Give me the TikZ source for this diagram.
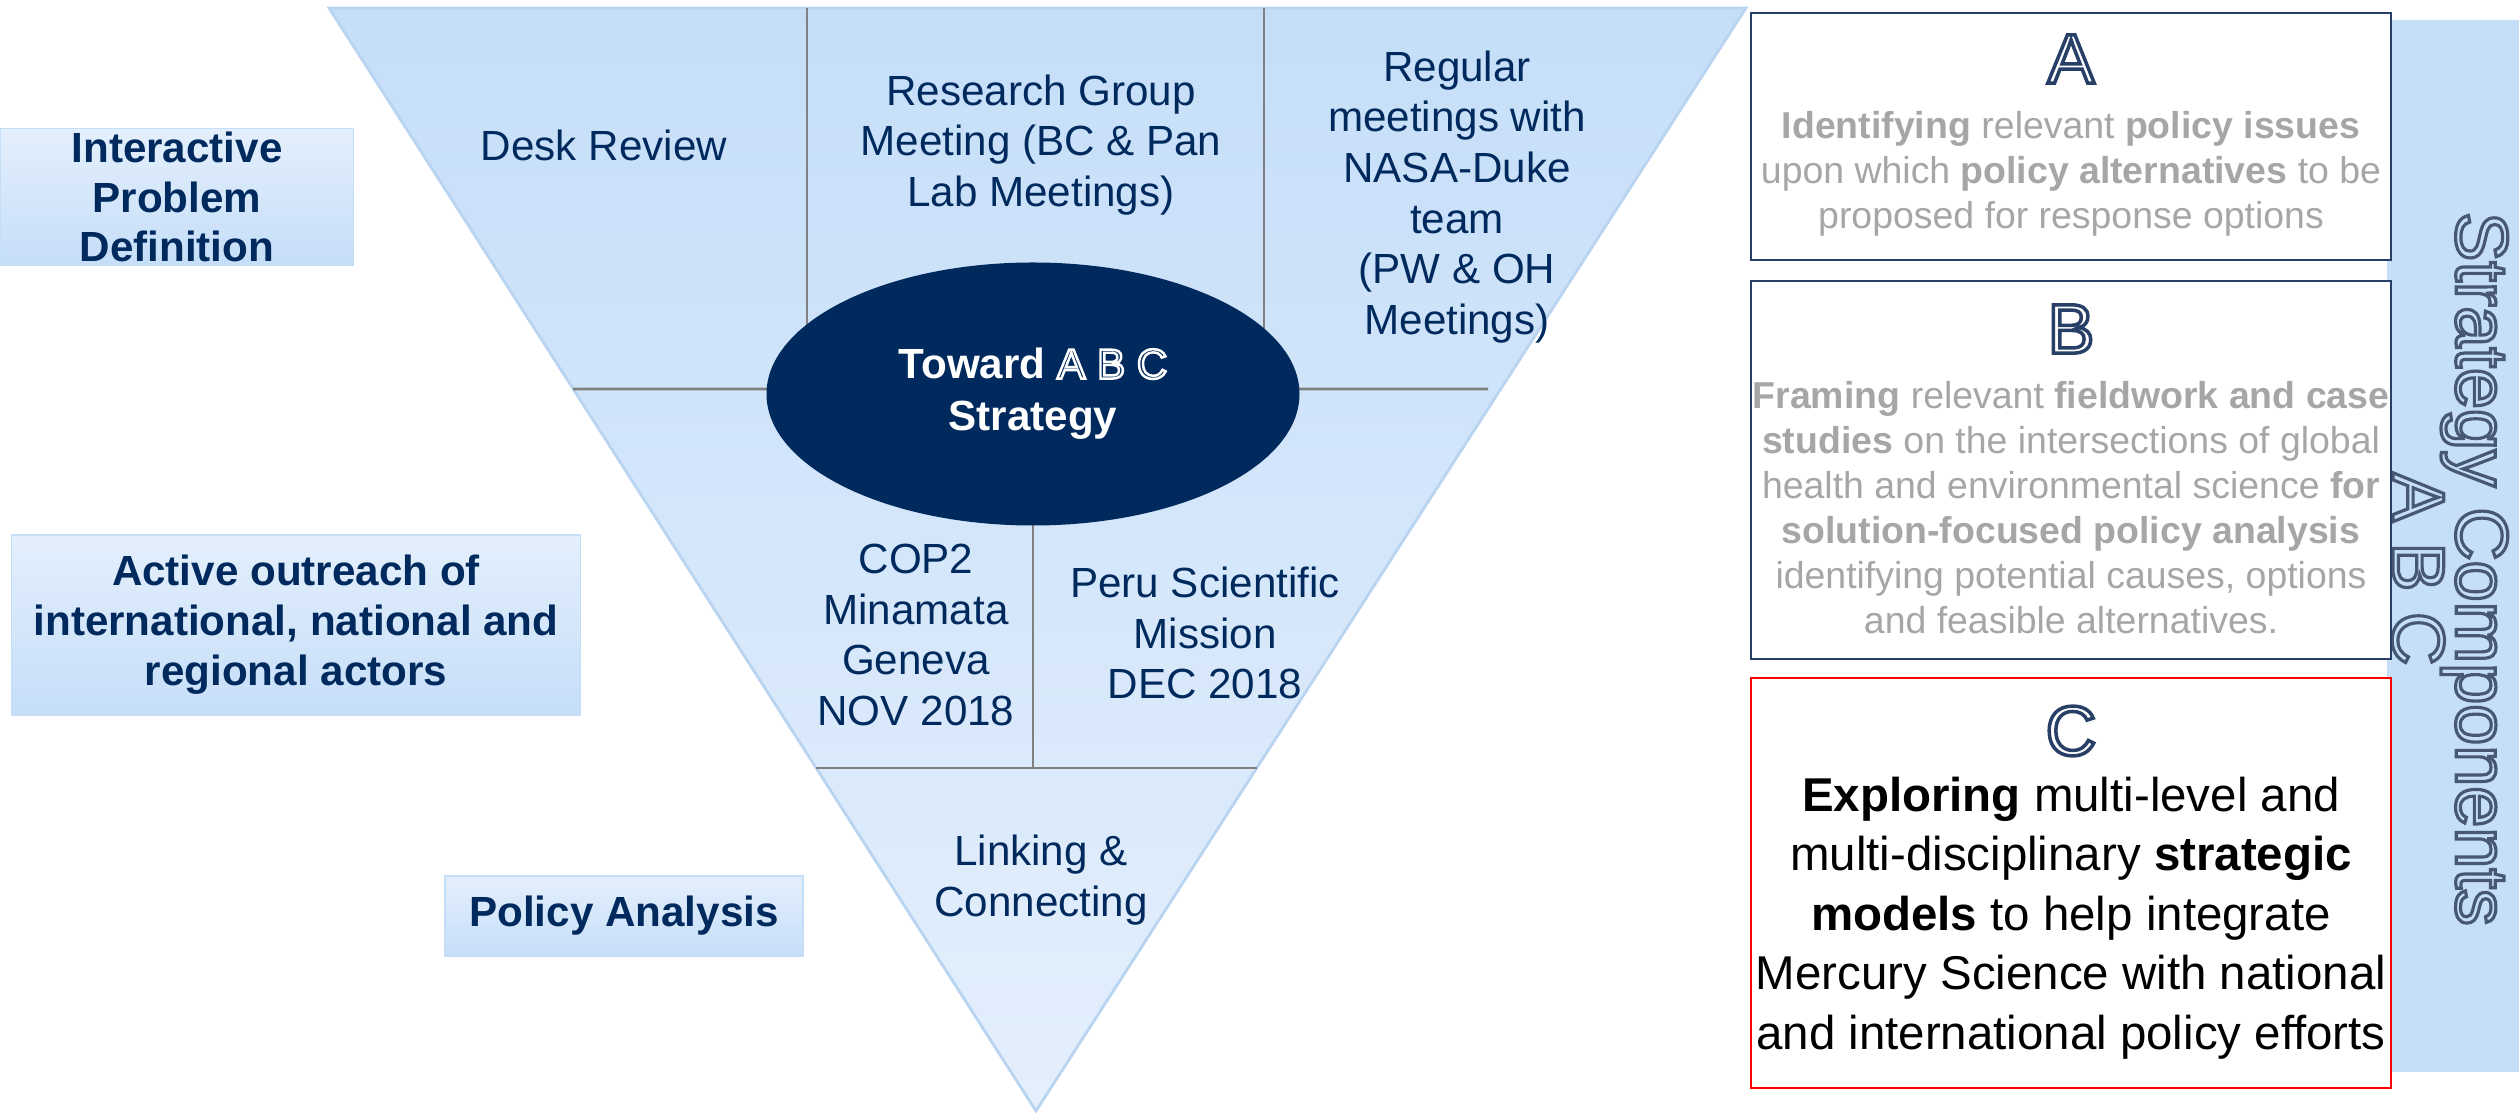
\documentclass[tikz,border=0pt]{standalone}
\usepackage{fontspec}
\setmainfont{Liberation Sans}
\usetikzlibrary{shapes.geometric,calc,positioning}

\definecolor{navy}{RGB}{0,42,94}
\definecolor{midblue}{RGB}{197,222,248}
\definecolor{lightblue}{RGB}{228,239,252}
\definecolor{triedge}{RGB}{185,212,240}
\definecolor{divgray}{RGB}{128,128,128}
\definecolor{boxline}{RGB}{40,64,104}
\definecolor{softgray}{RGB}{166,166,166}
\definecolor{sidebar}{RGB}{197,223,248}
\definecolor{slate}{RGB}{72,88,114}

% hollow letters: stroked glyph outlines only
\newcommand{\hollow}[3][0.6]{{\color{#2}\special{pdf:literal direct 1 Tr #1 w}#3\special{pdf:literal direct 0 Tr 0.4 w}}}

\begin{document}
\begin{tikzpicture}[
    stage/.style={draw=midblue,top color=lightblue,bottom color=midblue,align=center,text=navy,
      inner sep=0pt,font=\fontsize{12}{14.2}\selectfont\bfseries},
    segtext/.style={align=center,text=navy,font=\fontsize{12}{14.4}\selectfont},
    compbox/.style={draw=boxline,line width=0.7pt,fill=white,minimum width=6.40cm,inner sep=0pt},
    bigletter/.style={font=\fontsize{20}{24}\selectfont},
    desc/.style={align=center,text=softgray,font=\fontsize{10.65}{12.8}\selectfont},
    focus/.style={align=center,text=black,font=\fontsize{13.5}{16.9}\selectfont}]
    \useasboundingbox (0,0) rectangle (25.19,11.14);

    % funnel
    \coordinate (tl) at (3.29,11.06);
    \coordinate (tr) at (17.46,11.06);
    \coordinate (ap) at (10.36,0.03);
    \shadedraw[top color=midblue,bottom color=lightblue,draw=triedge,line width=0.8pt](tl)--(tr)--(ap)--cycle;

    \draw[divgray,line width=0.8pt](8.07,11.06)--(8.07,7.5);
    \draw[divgray,line width=0.8pt](12.64,11.06)--(12.64,7.5);
    \draw[divgray,line width=0.8pt]($(tl)!0.3454!(ap)$)--(14.88,7.25);
    \draw[divgray,line width=0.8pt](10.33,7.25)--(10.33,3.46);
    \draw[divgray,line width=0.8pt]($(tl)!0.689!(ap)$)--($(tr)!0.689!(ap)$);

    \node[ellipse,fill=navy,minimum width=5.33cm,minimum height=2.63cm,inner sep=0pt,align=center,
      text=white,font=\fontsize{12}{14.9}\selectfont\bfseries] (core) at (10.33,7.20)
      {Toward {\mdseries\hollow[0.7]{white}{A B C}}\\Strategy};

    \node[segtext] (desk) at (6.04,9.69) {Desk Review};
    \node[segtext] (group) at (10.41,9.69) {Research Group\\Meeting (BC \& Pan\\Lab Meetings)};
    \node[segtext] (nasa) at (14.57,9.17) {Regular\\meetings with\\NASA-Duke\\team\\(PW \& OH\\Meetings)};
    \node[segtext] (cop) at (9.16,4.79) {COP2\\Minamata\\Geneva\\NOV 2018};
    \node[segtext] (peru) at (12.05,4.81) {Peru Scientific\\Mission\\DEC 2018};
    \node[segtext] (link) at (10.41,2.34) {Linking \&\\Connecting};

    % stages on the left
    \node[stage,minimum width=3.53cm,minimum height=1.37cm] (define) at (1.77,9.17) {Interactive\\Problem\\Definition};
    \node[stage,minimum width=5.69cm,minimum height=1.80cm] (outreach) at (2.96,4.89) {Active outreach of\\international, national and\\regional actors};
    \node[stage,minimum width=3.58cm,minimum height=0.80cm] (policy) at (6.24,1.98) {Policy Analysis};

    % components on the right
    \node[fill=sidebar,minimum width=1.32cm,minimum height=10.52cm,inner sep=0pt] (bar) at (24.53,5.68) {};
    \node[rotate=-90,align=center,font=\fontsize{21}{18}\selectfont] (title) at (24.50,5.45)
      {\hollow[0.9]{slate}{Strategy Components}\\[-2pt]\hollow[0.9]{slate}{A B C}};

    \node[compbox,minimum height=2.47cm] (boxA) at (20.71,9.775) {};
    \node[compbox,minimum height=3.78cm] (boxB) at (20.71,6.44) {};
    \node[compbox,draw=red,minimum height=4.10cm] (boxC) at (20.71,2.31) {};

    \node[bigletter] (letA) at (20.71,10.55) {\hollow[1]{boxline}{A}};
    \node[bigletter] (letB) at (20.71,7.85) {\hollow[1]{boxline}{B}};
    \node[bigletter] (letC) at (20.71,3.83) {\hollow[1]{boxline}{C}};

    \node[desc] (txtA) at (20.71,9.40) {\textbf{Identifying} relevant \textbf{policy issues}\\upon which \textbf{policy alternatives} to be\\proposed for response options};
    \node[desc] (txtB) at (20.71,6.06) {\textbf{Framing} relevant \textbf{fieldwork and case}\\\textbf{studies} on the intersections of global\\health and environmental science \textbf{for}\\\textbf{solution-focused policy analysis}\\identifying potential causes, options\\and feasible alternatives.};
    \node[focus] (txtC) at (20.71,1.96) {\textbf{Exploring} multi-level and\\multi-disciplinary \textbf{strategic}\\\textbf{models} to help integrate\\Mercury Science with national\\and international policy efforts};
  \end{tikzpicture}
\end{document}
